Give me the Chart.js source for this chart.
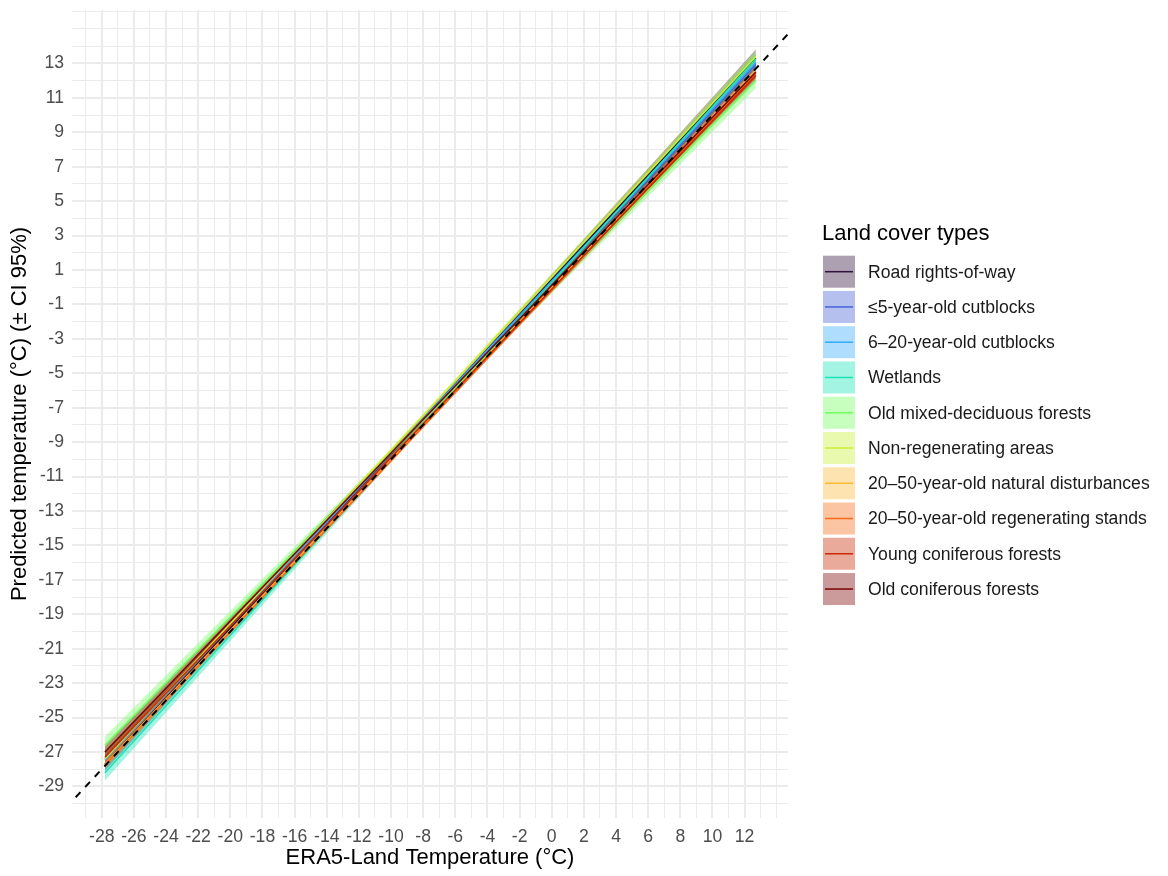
<!DOCTYPE html>
<html>
<head>
<meta charset="utf-8">
<script src="https://cdn.jsdelivr.net/npm/chart.js@4"></script>
<style>
  html, body { margin: 0; padding: 0; background: #fff; }
  #wrap { width: 1168px; height: 876px; }
</style>
</head>
<body>
<div id="wrap"><canvas id="tempChart" width="1168" height="876"></canvas></div>
<script>
// land cover types (legend order)
const categories = [
  'Road rights-of-way',
  '≤5-year-old cutblocks',
  '6–20-year-old cutblocks',
  'Wetlands',
  'Old mixed-deciduous forests',
  'Non-regenerating areas',
  '20–50-year-old natural disturbances',
  '20–50-year-old regenerating stands',
  'Young coniferous forests',
  'Old coniferous forests'
];
const lineColors = ['#30123B', '#4662D7', '#36AAF9', '#1AE4B6', '#72FE5E', '#C7EF34', '#FABA39', '#F66B19', '#CB2A04', '#7A0403'];

// fitted lines: x at both ends, predicted value at each end
const fitX = [-27.8, 12.7];
const fitStart = [-27.7, -27.4, -27.45, -28.2, -26.6, -27.4, -27.7, -27.75, -27.3, -27.0];
const fitEnd = [13.3, 12.95, 13.05, 13.25, 12.0, 13.4, 12.6, 12.45, 12.3, 12.5];

// 95% CI ribbons at left end, middle, right end
const ciX = [-27.8, -8, 12.7];
const ciUpper = [
  [-27.3, -7.5, 13.8],
  [-27.15, -7.57, 13.2],
  [-27.25, -7.57, 13.25],
  [-27.75, -7.78, 13.65],
  [-26.1, -7.58, 12.45],
  [-27.05, -7.33, 13.75],
  [-27.5, -7.91, 12.8],
  [-27.55, -8.02, 12.65],
  [-27.0, -7.84, 12.6],
  [-26.65, -7.57, 12.85]
];
const ciLower = [
  [-28.1, -7.8, 12.8],
  [-27.65, -7.77, 12.7],
  [-27.65, -7.73, 12.85],
  [-28.65, -8.08, 12.85],
  [-27.1, -7.88, 11.55],
  [-27.75, -7.57, 13.05],
  [-27.9, -8.07, 12.4],
  [-27.95, -8.18, 12.25],
  [-27.6, -8.04, 12.0],
  [-27.35, -7.81, 12.15]
];

// axis break labels
const xBreaks = [-28, -26, -24, -22, -20, -18, -16, -14, -12, -10, -8, -6, -4, -2, 0, 2, 4, 6, 8, 10, 12];
const yBreaks = [-29, -27, -25, -23, -21, -19, -17, -15, -13, -11, -9, -7, -5, -3, -1, 1, 3, 5, 7, 9, 11, 13];

// 1:1 reference line
const oneToOne = [-32, 17];

const FONT = "'Liberation Sans', Arial, sans-serif";

function withAlpha(hex, a) {
  const r = parseInt(hex.slice(1, 3), 16);
  const g = parseInt(hex.slice(3, 5), 16);
  const b = parseInt(hex.slice(5, 7), 16);
  return `rgba(${r},${g},${b},${a})`;
}

const datasets = [];
categories.forEach((name, i) => {
  datasets.push({
    label: name + ' upper',
    data: ciX.map((x, k) => ({ x, y: ciUpper[i][k] })),
    borderWidth: 0,
    pointRadius: 0,
    backgroundColor: withAlpha(lineColors[i], 0.4),
    fill: '+1',
    order: 100 - i
  });
  datasets.push({
    label: name + ' lower',
    data: ciX.map((x, k) => ({ x, y: ciLower[i][k] })),
    borderWidth: 0,
    pointRadius: 0,
    fill: false,
    order: 100 - i
  });
});
categories.forEach((name, i) => {
  datasets.push({
    label: name,
    data: [{ x: fitX[0], y: fitStart[i] }, { x: fitX[1], y: fitEnd[i] }],
    borderColor: lineColors[i],
    borderWidth: 1.6,
    pointRadius: 0,
    fill: false,
    order: 50 - i
  });
});
datasets.push({
  label: '1:1',
  data: oneToOne.map(v => ({ x: v, y: v })),
  borderColor: '#000',
  borderWidth: 2,
  borderDash: [7, 7],
  pointRadius: 0,
  fill: false,
  order: 0
});

// ggplot-like legend on the right
const sideLegend = {
  id: 'sideLegend',
  afterDraw(chart) {
    const ctx = chart.ctx;
    ctx.save();
    ctx.fillStyle = '#000';
    ctx.font = '22px ' + FONT;
    ctx.textAlign = 'left';
    ctx.textBaseline = 'middle';
    ctx.fillText('Land cover types', 822, 234);
    ctx.font = '17.6px ' + FONT;
    categories.forEach((name, i) => {
      const cy = 271.7 + i * 35.26;
      ctx.fillStyle = withAlpha(lineColors[i], 0.4);
      ctx.fillRect(823, cy - 16, 32, 32);
      ctx.strokeStyle = lineColors[i];
      ctx.lineWidth = 1.5;
      ctx.beginPath();
      ctx.moveTo(825, cy);
      ctx.lineTo(853, cy);
      ctx.stroke();
      ctx.fillStyle = '#1a1a1a';
      ctx.fillText(name, 868, cy + 1);
    });
    ctx.restore();
  }
};

new Chart(document.getElementById('tempChart'), {
  type: 'line',
  data: { datasets },
  plugins: [sideLegend],
  options: {
    responsive: false,
    animation: false,
    layout: { padding: { top: 10, right: 380, left: 0, bottom: 0 } },
    plugins: {
      legend: { display: false },
      tooltip: { enabled: false },
      filler: { propagate: false }
    },
    scales: {
      x: {
        type: 'linear',
        min: -29.85,
        max: 14.7,
        border: { display: false },
        grid: {
          drawTicks: false,
          color: '#ebebeb',
          lineWidth: c => (c.tick && xBreaks.includes(c.tick.value) ? 2 : 1)
        },
        ticks: {
          stepSize: 1,
          includeBounds: false,
          autoSkip: false,
          maxRotation: 0,
          maxTicksLimit: 100,
          padding: 9,
          color: '#4d4d4d',
          font: { family: FONT, size: 17.6 },
          callback: v => (xBreaks.includes(v) ? String(v) : '')
        },
        title: {
          display: true,
          text: 'ERA5-Land Temperature (°C)',
          color: '#000',
          font: { family: FONT, size: 22 },
          padding: { top: 0, bottom: 5 }
        },
        afterFit: s => { s.height = 58; s.paddingLeft = 0; s.paddingRight = 0; }
      },
      y: {
        type: 'linear',
        min: -30.83,
        max: 16.1,
        border: { display: false },
        grid: {
          drawTicks: false,
          color: '#ebebeb',
          lineWidth: c => (c.tick && yBreaks.includes(c.tick.value) ? 2 : 1)
        },
        ticks: {
          stepSize: 1,
          includeBounds: false,
          autoSkip: false,
          maxTicksLimit: 100,
          padding: 8,
          color: '#4d4d4d',
          font: { family: FONT, size: 17.6 },
          callback: v => (yBreaks.includes(v) ? String(v) : '')
        },
        title: {
          display: true,
          text: 'Predicted temperature (°C) (± CI 95%)',
          color: '#000',
          font: { family: FONT, size: 22 },
          padding: { top: 7, bottom: 0 }
        },
        afterFit: s => { s.width = 72; s.paddingTop = 0; s.paddingBottom = 0; }
      }
    }
  }
});
</script>
</body>
</html>
